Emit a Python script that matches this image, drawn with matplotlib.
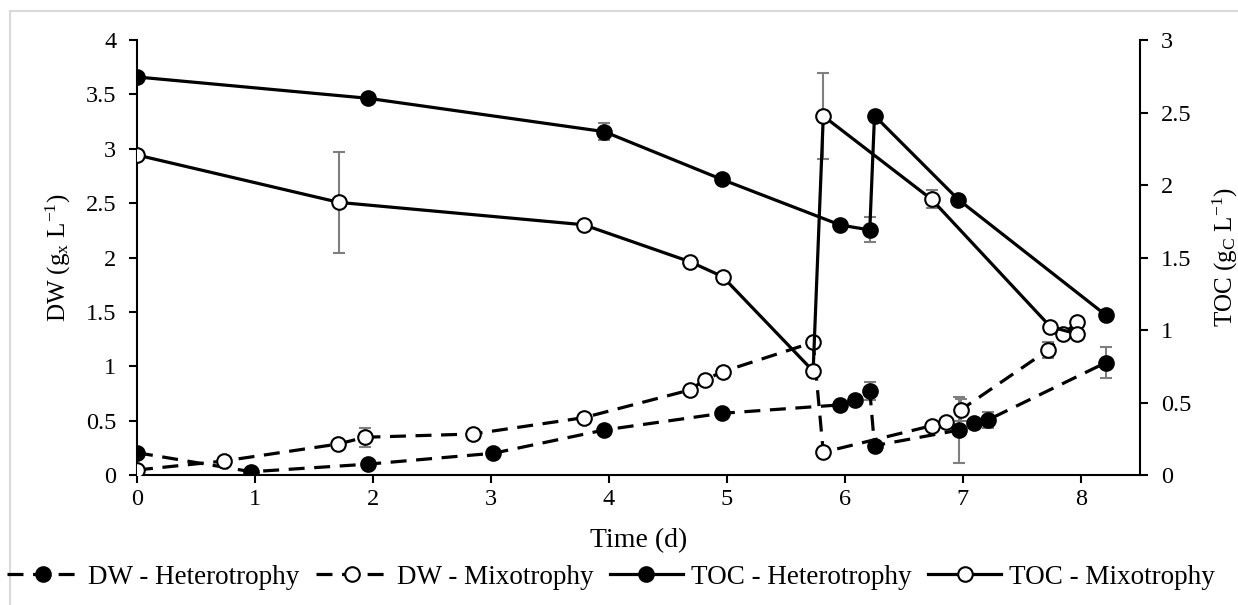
import matplotlib
matplotlib.use('Agg')
import matplotlib.pyplot as plt
from matplotlib.lines import Line2D
from matplotlib.patches import Rectangle
from matplotlib.ticker import FuncFormatter

plt.rcParams['font.family'] = 'Liberation Serif'
plt.rcParams['font.size'] = 17
plt.rcParams['mathtext.fontset'] = 'custom'
plt.rcParams['mathtext.rm'] = 'Liberation Serif'
plt.rcParams['mathtext.it'] = 'Liberation Serif:italic'

# DW - Heterotrophy (left axis)
t_dw_het = [0, 0.97, 1.96, 3.02, 3.96, 4.955, 5.96, 6.085, 6.21, 6.25, 6.97, 7.09, 7.21, 8.21]
dw_het = [0.205, 0.03, 0.10, 0.20, 0.414, 0.567, 0.645, 0.69, 0.775, 0.27, 0.414, 0.475, 0.506, 1.033]
dw_het_err = [0, 0, 0, 0, 0, 0, 0, 0, 0.084, 0, 0.30, 0, 0.072, 0.145]

# DW - Mixotrophy (left axis)
t_dw_mix = [0, 0.737, 1.706, 1.93, 2.845, 3.785, 4.686, 4.81, 4.963, 5.73, 5.816,
            6.734, 6.856, 6.98, 7.72, 7.85, 7.97]
dw_mix = [0.046, 0.129, 0.285, 0.347, 0.377, 0.527, 0.782, 0.874, 0.95, 1.22, 0.209,
          0.453, 0.485, 0.598, 1.149, 1.297, 1.407]
dw_mix_err = [0, 0, 0, 0.087, 0, 0, 0, 0, 0, 0, 0, 0, 0, 0.1, 0.075, 0, 0]

# TOC - Heterotrophy (right axis)
t_toc_het = [0, 1.958, 3.96, 4.955, 5.96, 6.21, 6.25, 6.96, 8.21]
toc_het = [2.745, 2.598, 2.368, 2.039, 1.724, 1.69, 2.478, 1.90, 1.103]
toc_het_err = [0, 0.03, 0.057, 0, 0, 0.086, 0, 0, 0]

# TOC - Mixotrophy (right axis)
t_toc_mix = [0, 1.712, 3.785, 4.686, 4.963, 5.73, 5.816, 6.734, 7.74, 7.97]
toc_mix = [2.207, 1.88, 1.726, 1.471, 1.368, 0.717, 2.476, 1.901, 1.023, 0.972]
toc_mix_err = [0, 0.35, 0, 0, 0, 0, 0.294, 0.063, 0, 0]

labels = ['DW - Heterotrophy', 'DW - Mixotrophy', 'TOC - Heterotrophy', 'TOC - Mixotrophy']

fig = plt.figure(figsize=(12.38, 6.05), dpi=100)
ax = fig.add_axes([137 / 1238, 1 - 475 / 605, (1140 - 137) / 1238, (475 - 40) / 605])
ax2 = ax.twinx()

err_style = dict(fmt='none', ecolor='#7f7f7f', elinewidth=1.5, capsize=4, capthick=1.5, zorder=1)
dash = (5, 3)
lw = 2.3
ms = 10.5

# dashed DW series
ax.errorbar(t_dw_het, dw_het, yerr=dw_het_err, **err_style)
ax.errorbar(t_dw_mix, dw_mix, yerr=dw_mix_err, **err_style)
ax.plot(t_dw_het, dw_het, color='black', lw=lw, dashes=dash, marker='o', ms=ms,
        mfc='black', mec='black', mew=1.5, zorder=3)
ax.plot(t_dw_mix, dw_mix, color='black', lw=lw, dashes=dash, marker='o', ms=ms,
        mfc='white', mec='black', mew=1.5, zorder=3)

# solid TOC series
ax2.errorbar(t_toc_het, toc_het, yerr=toc_het_err, **err_style)
ax2.errorbar(t_toc_mix, toc_mix, yerr=toc_mix_err, **err_style)
ax2.plot(t_toc_het, toc_het, color='black', lw=lw, marker='o', ms=ms,
         mfc='black', mec='black', mew=1.5, zorder=3)
ax2.plot(t_toc_mix, toc_mix, color='black', lw=lw, marker='o', ms=ms,
         mfc='white', mec='black', mew=1.5, zorder=3)

ax.set_xlim(0, 8.5)
ax.set_xticks(range(0, 9))
ax.set_ylim(0, 4)
ax.set_yticks([0, 0.5, 1, 1.5, 2, 2.5, 3, 3.5, 4])
ax2.set_ylim(0, 3)
ax2.set_yticks([0, 0.5, 1, 1.5, 2, 2.5, 3])
fmt = FuncFormatter(lambda v, p: '%g' % v)
ax.yaxis.set_major_formatter(fmt)
ax2.yaxis.set_major_formatter(fmt)

for a in (ax, ax2):
    a.spines['top'].set_visible(False)
    for s in a.spines.values():
        s.set_linewidth(1.5)
    a.tick_params(direction='out', length=6, width=1.5, labelsize=17.5)
ax.tick_params(axis='y', pad=9)
ax2.tick_params(axis='y', pad=9)
ax.tick_params(axis='x', pad=4)
ax.spines['right'].set_visible(False)
ax2.spines['left'].set_visible(False)
ax2.spines['bottom'].set_visible(False)

ax.set_xlabel('Time (d)', fontsize=20, labelpad=13)
ax.set_ylabel('DW (g$_\\mathregular{x}$ L$^\\mathregular{-1}$)', fontsize=18, labelpad=9)
ax2.set_ylabel('TOC (g$_\\mathregular{C}$ L$^\\mathregular{-1}$)', fontsize=18, labelpad=14)

handles = [
    Line2D([], [], color='black', lw=lw, dashes=dash, marker='o', ms=ms, mfc='black', mec='black', mew=1.5),
    Line2D([], [], color='black', lw=lw, dashes=dash, marker='o', ms=ms, mfc='white', mec='black', mew=1.5),
    Line2D([], [], color='black', lw=lw, marker='o', ms=ms, mfc='black', mec='black', mew=1.5),
    Line2D([], [], color='black', lw=lw, marker='o', ms=ms, mfc='white', mec='black', mew=1.5),
]
fig.legend(handles, labels, loc='center', bbox_to_anchor=(611 / 1238, 1 - 577 / 605), ncol=4,
           frameon=False, handlelength=2.7, handletextpad=0.3, columnspacing=0.6, fontsize=19.5)

# light grey frame of the chart area
fig.patches.append(Rectangle((9.5 / 1238, -0.1), 1.2, 1 - 11 / 605 + 0.1, transform=fig.transFigure,
                             fill=False, edgecolor='#d9d9d9', lw=1.5))

fig.savefig('out.png', dpi=100)
